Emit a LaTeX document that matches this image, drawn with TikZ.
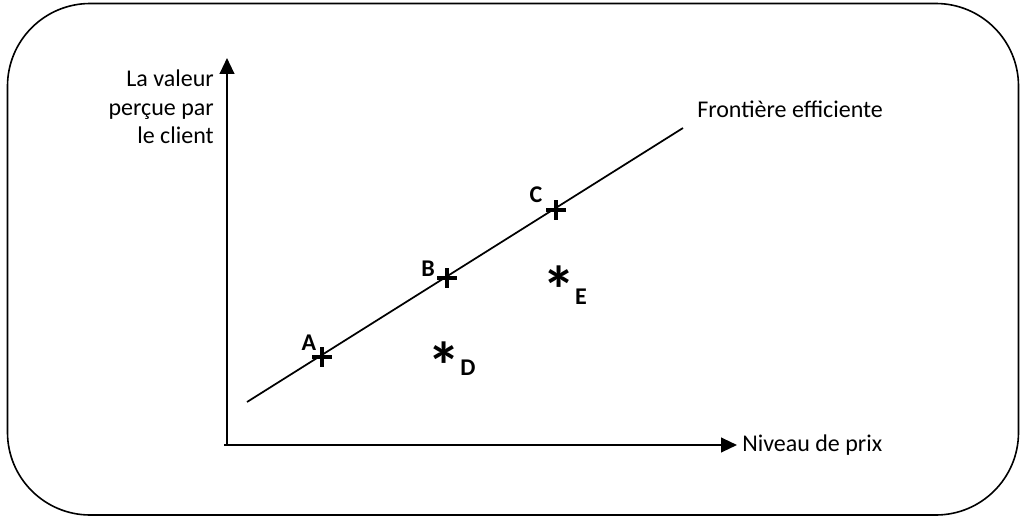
\documentclass[tikz,border=0pt]{standalone}
\usepackage{fontspec}
\setmainfont{Carlito}
\usetikzlibrary{arrows.meta}
\begin{document}
\begin{tikzpicture}[x=0.75pt,y=-0.75pt,
  lbl/.style={font=\fontsize{18}{21.4}\selectfont, inner sep=0pt},
  ptlbl/.style={font=\fontsize{18}{20}\selectfont\bfseries, inner sep=0pt},
  axis/.style={line width=1.6pt, -{Triangle[length=12pt,width=11pt]}},
  plusmark/.style={line width=3pt},
  starmark/.style={font=\fontsize{50}{50}\selectfont\bfseries, inner sep=0pt}]
\useasboundingbox (0,0) rectangle (1020,517);
\draw[line width=1.2pt, rounded corners=62pt] (7.5,3.5) rectangle (1018.5,515);
% axes
\coordinate (O) at (227,445);
\coordinate (Ytip) at (227,58);
\coordinate (Xtip) at (737,445);
\draw[axis] (O) ++(-3,0) coordinate (O2) -- (Xtip);
\draw[axis] (O) -- (Ytip);
\node[lbl, anchor=west] (xl) at (742,445) {Niveau de prix};
\node[lbl, anchor=north east, align=right] (yl) at (214,70) {La valeur\\perçue par\\le client};
% frontier
\coordinate (F1) at (247,402);
\coordinate (F2) at (683,128);
\draw[line width=1.3pt] (F1) -- (F2);
\node[lbl, anchor=west] (fl) at (697,109) {Frontière efficiente};
% points
\foreach \n/\x/\y in {A/322/357, B/447/278, C/556/210}{
  \coordinate (\n) at (\x,\y);
  \draw[plusmark] (\x-10,\y) -- (\x+10,\y);
  \draw[plusmark] (\x,\y-10) -- (\x,\y+10);
}
\node[ptlbl] (la) at (309,343) {A};
\node[ptlbl] (lb) at (428,269) {B};
\node[ptlbl] (lc) at (536,195) {C};
\node[starmark] (D) at (444,366) {*};
\node[starmark] (E) at (559,290) {*};
\node[ptlbl] (ld) at (468,368) {D};
\node[ptlbl] (le) at (581,297) {E};
\end{tikzpicture}
\end{document}
